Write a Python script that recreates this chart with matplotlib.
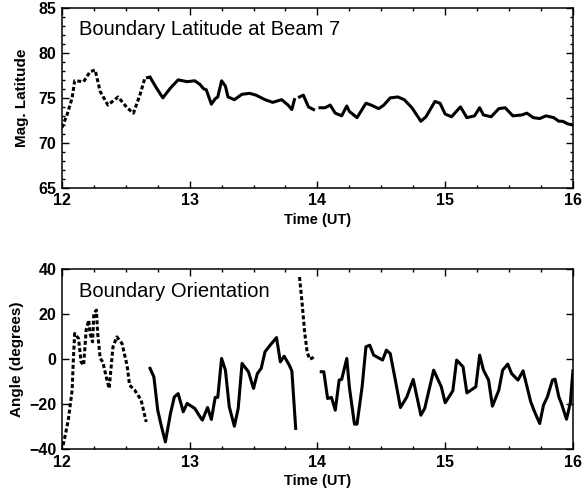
import numpy as np
import matplotlib
matplotlib.use('Agg')
from matplotlib import pyplot as plt
from matplotlib.ticker import MultipleLocator

plt.rcParams['font.family'] = ['Liberation Sans', 'DejaVu Sans']

# --- top panel: boundary latitude at beam 7 ---
lat_dash_t = [12.00, 12.04, 12.08, 12.10, 12.17, 12.22, 12.26, 12.30, 12.36,
              12.44, 12.51, 12.56, 12.61, 12.65, 12.69]
lat_dash_v = [71.7, 73.1, 75.0, 76.9, 76.8, 77.9, 78.1, 75.7, 74.2,
              75.1, 73.9, 73.3, 75.3, 77.2, 77.3]

lat_a_t = [12.69, 12.74, 12.79, 12.85, 12.91, 12.98, 13.04, 13.08, 13.11,
           13.13, 13.17, 13.20, 13.22, 13.25, 13.28, 13.30, 13.35, 13.41,
           13.47, 13.52, 13.59, 13.65, 13.72, 13.77, 13.80, 13.82]
lat_a_v = [77.3, 76.1, 75.0, 76.1, 77.0, 76.8, 76.9, 76.5, 76.0,
           75.9, 74.3, 74.9, 75.1, 76.9, 76.3, 75.1, 74.8, 75.4,
           75.5, 75.3, 74.8, 74.5, 74.8, 74.2, 73.7, 74.8]

lat_b_t = [13.86, 13.89, 13.93, 13.97]
lat_b_v = [75.1, 75.3, 74.0, 73.7]

lat_c_t = [14.02, 14.06, 14.10, 14.14, 14.19, 14.23, 14.25, 14.31, 14.38,
           14.42, 14.48, 14.52, 14.57, 14.63, 14.68, 14.74, 14.81, 14.85,
           14.92, 14.96, 15.00, 15.05, 15.12, 15.17, 15.23, 15.27, 15.30,
           15.36, 15.42, 15.47, 15.53, 15.60, 15.64, 15.69, 15.74, 15.79,
           15.85, 15.89, 15.92, 15.96, 16.00]
lat_c_v = [73.9, 73.9, 74.2, 73.3, 73.0, 74.1, 73.5, 72.8, 74.4,
           74.2, 73.8, 74.2, 75.0, 75.1, 74.8, 73.9, 72.4, 72.9,
           74.6, 74.4, 73.2, 72.9, 74.0, 72.8, 73.0, 73.9, 73.1,
           72.9, 73.8, 73.9, 73.0, 73.1, 73.3, 72.8, 72.7, 73.0,
           72.8, 72.4, 72.4, 72.1, 72.0]

# --- bottom panel: boundary orientation ---
ang_dash1_t = [12.01, 12.05, 12.08, 12.09, 12.10, 12.13, 12.15, 12.17, 12.19,
               12.21, 12.22, 12.24, 12.25, 12.27, 12.28, 12.30, 12.32, 12.35,
               12.37, 12.40, 12.43, 12.47, 12.51, 12.53, 12.57, 12.62, 12.66]
ang_dash1_v = [-38.2, -27.1, -13.8, 0.3, 11.4, 9.2, -1.2, -2.7, 12.9,
               17.3, 11.4, 7.7, 20.3, 21.8, 11.4, 0.3, -1.2, -8.6,
               -13.0, 5.5, 9.9, 7.0, -2.7, -11.6, -13.8, -18.2, -27.9]

ang_a_t = [12.69, 12.72, 12.75, 12.78, 12.81, 12.85, 12.88, 12.91, 12.95,
           12.98, 13.04, 13.09, 13.10, 13.14, 13.17, 13.20, 13.22, 13.25,
           13.28, 13.31, 13.35, 13.38, 13.41, 13.46, 13.50, 13.53, 13.56,
           13.59, 13.63, 13.68, 13.71, 13.74, 13.78, 13.80, 13.83]
ang_a_v = [-4.1, -7.9, -22.7, -30.1, -36.8, -24.1, -16.8, -15.3, -23.4,
           -19.7, -21.9, -26.4, -27.1, -21.5, -26.8, -17.0, -17.0, 0.3,
           -4.9, -21.2, -29.8, -21.9, -1.9, -5.6, -13.0, -6.4, -4.1,
           3.3, 6.2, 9.6, -1.2, 1.3, -2.7, -5.2, -30.8]

ang_dash2_t = [13.86, 13.88, 13.90, 13.92, 13.94, 13.96, 13.98]
ang_dash2_v = [36.5, 25.0, 12.0, 3.0, 0.0, 0.5, 1.5]

ang_b_t = [14.03, 14.05, 14.08, 14.11, 14.14, 14.17, 14.19, 14.23, 14.25,
           14.29, 14.31, 14.35, 14.38, 14.41, 14.44, 14.51, 14.54, 14.57,
           14.61, 14.65, 14.70, 14.75, 14.81, 14.84, 14.91, 14.97, 15.00,
           15.06, 15.09, 15.14, 15.17, 15.24, 15.27, 15.30, 15.34, 15.37,
           15.42, 15.45, 15.49, 15.52, 15.57, 15.61, 15.67, 15.70, 15.74,
           15.77, 15.80, 15.84, 15.86, 15.89, 15.91, 15.95, 15.98, 16.00]
ang_b_v = [-5.6, -5.6, -17.5, -17.0, -22.7, -9.3, -9.0, 0.3, -12.3,
           -28.9, -28.9, -12.3, 5.5, 6.2, 1.8, -0.4, 4.0, 2.5,
           -9.3, -21.5, -16.8, -9.0, -24.9, -21.9, -4.9, -12.3, -19.4,
           -14.1, -0.4, -3.4, -15.0, -12.3, 1.8, -4.9, -9.3, -20.9,
           -13.8, -4.9, -2.2, -6.4, -9.3, -5.2, -19.0, -23.4, -28.6,
           -20.4, -16.8, -9.3, -8.9, -16.8, -19.7, -26.7, -19.4, -5.2]

LW = 2.2
DOT = (0, (1.3, 0.8))

fig = plt.figure(figsize=(5.84, 4.93), dpi=100)
ax1 = fig.add_axes([0.106, 0.619, 0.875, 0.365])
ax2 = fig.add_axes([0.106, 0.089, 0.875, 0.365])


def style(ax):
    ax.set_xlim(12, 16)
    ax.xaxis.set_major_locator(MultipleLocator(1))
    ax.xaxis.set_minor_locator(MultipleLocator(0.25))
    ax.tick_params(which='both', direction='in', top=True, right=True,
                   width=1, labelsize=11.5)
    ax.tick_params(which='major', length=5, pad=4)
    ax.tick_params(which='minor', length=2.5)
    for s in ax.spines.values():
        s.set_linewidth(1.1)
    for lab in ax.get_xticklabels() + ax.get_yticklabels():
        lab.set_fontweight('bold')
    ax.set_xlabel('Time (UT)', fontsize=10.5, fontweight='bold')
    ax.xaxis.set_label_coords(0.5, -0.14)


ax1.plot(lat_dash_t, lat_dash_v, color='black', lw=LW, ls=DOT)
ax1.plot(lat_a_t, lat_a_v, color='black', lw=LW)
ax1.plot(lat_b_t, lat_b_v, color='black', lw=LW)
ax1.plot(lat_c_t, lat_c_v, color='black', lw=LW)
ax1.set_ylim(65, 85)
ax1.yaxis.set_major_locator(MultipleLocator(5))
ax1.yaxis.set_minor_locator(MultipleLocator(1))
style(ax1)
ax1.set_ylabel('Mag. Latitude', fontsize=11, fontweight='bold', labelpad=7)
ax1.text(0.033, 0.93, 'Boundary Latitude at Beam 7', transform=ax1.transAxes,
         fontsize=14.5, va='top', ha='left')

ax2.plot(ang_dash1_t, ang_dash1_v, color='black', lw=LW, ls=DOT)
ax2.plot(ang_a_t, ang_a_v, color='black', lw=LW)
ax2.plot(ang_dash2_t, ang_dash2_v, color='black', lw=LW, ls=DOT)
ax2.plot(ang_b_t, ang_b_v, color='black', lw=LW)
ax2.set_ylim(-40, 40)
ax2.yaxis.set_major_locator(MultipleLocator(20))
style(ax2)
ax2.set_ylabel('Angle (degrees)', fontsize=11, fontweight='bold', labelpad=4)
ax2.text(0.033, 0.93, 'Boundary Orientation', transform=ax2.transAxes,
         fontsize=14.5, va='top', ha='left')

fig.align_ylabels([ax1, ax2])
fig.savefig('out.png', dpi=100)
